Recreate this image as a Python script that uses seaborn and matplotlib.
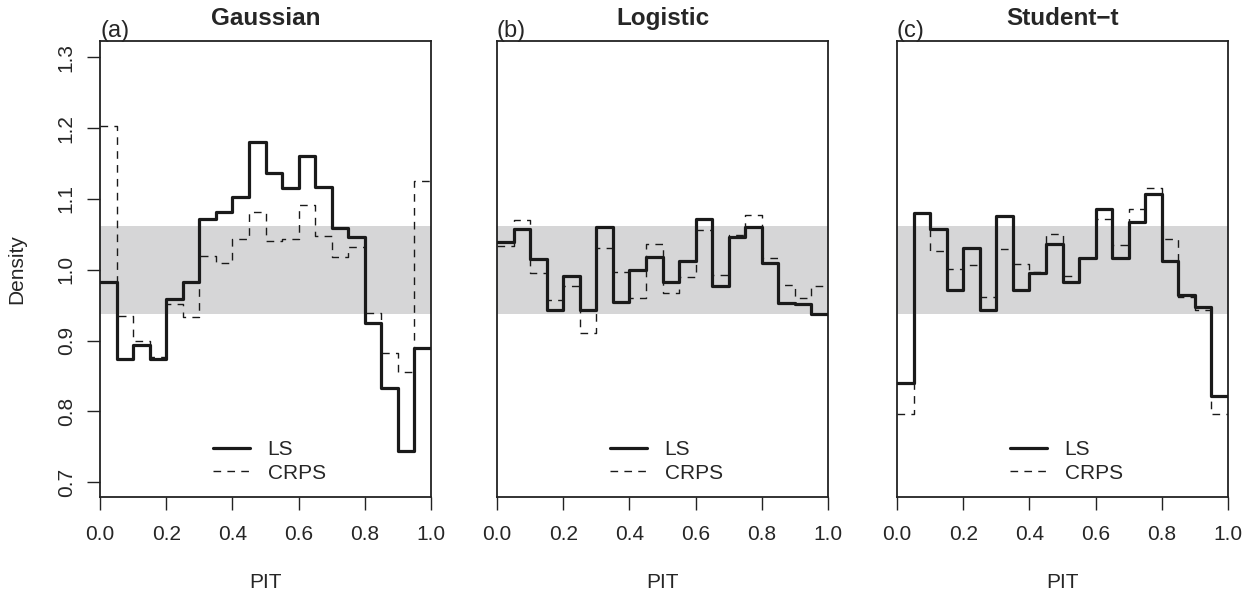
import numpy as np
import pandas as pd
import matplotlib
matplotlib.use("Agg")
import matplotlib.pyplot as plt
import matplotlib.transforms as mtransforms
import seaborn as sns

# ---- data ----
bin_edges = [round(0.05 * i, 2) for i in range(21)]
panel_titles = ["Gaussian", "Logistic", "Student\u2212t"]
panel_tags = ["(a)", "(b)", "(c)"]

gauss_ls = [0.982, 0.874, 0.894, 0.874, 0.959, 0.983, 1.072, 1.081, 1.102, 1.180,
            1.137, 1.115, 1.160, 1.117, 1.059, 1.046, 0.925, 0.833, 0.744, 0.889]
gauss_crps = [1.203, 0.934, 0.900, 0.877, 0.952, 0.933, 1.020, 1.010, 1.043, 1.082,
              1.040, 1.043, 1.091, 1.048, 1.018, 1.032, 0.939, 0.882, 0.855, 1.125]
logis_ls = [1.039, 1.057, 1.015, 0.943, 0.991, 0.943, 1.060, 0.955, 1.000, 1.018,
            0.983, 1.013, 1.072, 0.977, 1.046, 1.061, 1.009, 0.953, 0.952, 0.937]
logis_crps = [1.033, 1.070, 0.995, 0.957, 0.977, 0.911, 1.031, 0.997, 0.960, 1.036,
              0.967, 0.989, 1.056, 0.992, 1.049, 1.077, 1.017, 0.978, 0.960, 0.977]
stud_ls = [0.840, 1.080, 1.057, 0.972, 1.030, 0.943, 1.076, 0.972, 0.995, 1.037,
           0.982, 1.016, 1.086, 1.017, 1.068, 1.107, 1.012, 0.964, 0.947, 0.821]
stud_crps = [0.796, 1.080, 1.026, 1.001, 1.007, 0.961, 1.029, 1.008, 0.997, 1.051,
             0.991, 1.016, 1.071, 1.035, 1.086, 1.115, 1.043, 0.962, 0.943, 0.796]

band_low, band_high = 0.938, 1.062
y_ticks = [0.7, 0.8, 0.9, 1.0, 1.1, 1.2, 1.3]
x_ticks = [0.0, 0.2, 0.4, 0.6, 0.8, 1.0]

series = [(gauss_ls, gauss_crps), (logis_ls, logis_crps), (stud_ls, stud_crps)]

sns.set_style("ticks")
plt.rcParams['font.family'] = ['Liberation Sans', 'DejaVu Sans']
plt.rcParams['font.size'] = 15

DASH = [5.5, 4.5]
INK = "#1a1a1a"

fig = plt.figure(figsize=(12.58, 5.95), dpi=100)
lefts = [100, 497, 897]
W, H = 1258, 595
for i, lx in enumerate(lefts):
    ax = fig.add_axes([lx / W, 1 - 497 / H, 331 / W, 456 / H])
    ls_vals, crps_vals = series[i]
    df = pd.DataFrame({
        "PIT": bin_edges * 2,
        "Density": list(ls_vals) + [ls_vals[-1]] + list(crps_vals) + [crps_vals[-1]],
        "Score": ["LS"] * 21 + ["CRPS"] * 21,
    })
    ax.axhspan(band_low, band_high, xmin=0, xmax=1, color="#d6d6d7", lw=0, zorder=0)
    sns.lineplot(data=df[df.Score == "LS"], x="PIT", y="Density", ax=ax,
                 drawstyle="steps-post", color=INK, lw=2.3, estimator=None,
                 label="LS", zorder=3)
    sns.lineplot(data=df[df.Score == "CRPS"], x="PIT", y="Density", ax=ax,
                 drawstyle="steps-post", color=INK, lw=1.0, estimator=None,
                 label="CRPS", zorder=2)
    ax.lines[-1].set_dashes(DASH)
    ax.set_xlim(0, 1)
    ax.set_ylim(0.679, 1.323)
    ax.set_xticks(x_ticks)
    ax.set_xticklabels([f"{t:.1f}" for t in x_ticks], fontsize=15)
    ax.set_xlabel("PIT", fontsize=15, labelpad=21)
    ax.tick_params(axis="both", direction="out", length=9.4, width=1, color="#222222")
    ax.tick_params(axis="x", pad=11)
    if i == 0:
        ax.set_yticks(y_ticks)
        ax.set_yticklabels([f"{t:.1f}" for t in y_ticks], fontsize=15, rotation=90, va="center")
        ax.tick_params(axis="y", pad=8)
        ax.set_ylabel("Density", fontsize=15, labelpad=22)
    else:
        ax.set_yticks([])
        ax.set_ylabel("")
    for s in ax.spines.values():
        s.set_visible(True)
        s.set_linewidth(1.3)
        s.set_color("#222222")
    off_title = mtransforms.offset_copy(ax.transAxes, fig=fig, x=0, y=16, units="dots")
    ax.text(0.5, 1.0, panel_titles[i], transform=off_title, fontsize=17.5,
            fontweight="bold", ha="center", va="baseline")
    off_tag = mtransforms.offset_copy(ax.transAxes, fig=fig, x=0, y=4, units="dots")
    ax.text(0.0, 1.0, panel_tags[i], transform=off_tag, fontsize=17,
            ha="left", va="baseline")
    leg = ax.legend(loc="center left", bbox_to_anchor=(0.34, 0.078), frameon=False,
                    handlelength=1.8, fontsize=15, labelspacing=0.22, handletextpad=0.85,
                    borderpad=0, borderaxespad=0)
    leg.get_lines()[1].set_dashes(DASH)

fig.savefig("out.png", dpi=100)
